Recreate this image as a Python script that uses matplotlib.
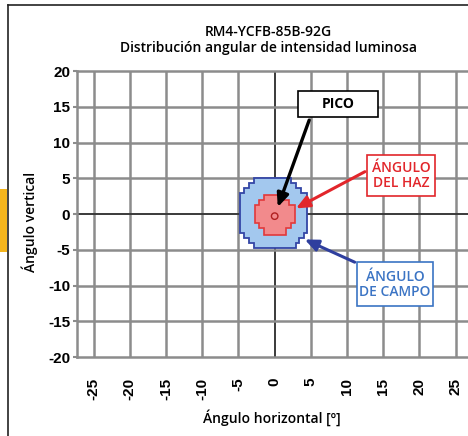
import numpy as np
import matplotlib
matplotlib.use('Agg')
import matplotlib.pyplot as plt
from matplotlib.patches import Polygon, Rectangle, Circle
from matplotlib.lines import Line2D

plt.rcParams['axes.unicode_minus'] = False

# chart data (degrees)
x_ticks = [-25, -20, -15, -10, -5, 0, 5, 10, 15, 20, 25]
y_ticks = [-20, -15, -10, -5, 0, 5, 10, 15, 20]

# field angle region (10% contour), row by row
field_y_edges = [-4.7, -4.1, -3.4, -2.7, 2.9, 3.6, 4.3, 5.0]
field_x_left = [-2.9, -3.6, -4.2, -4.8, -4.2, -3.6, -2.9]
field_x_right = [2.9, 3.4, 4.0, 4.5, 3.7, 3.0, 2.3]

# beam angle region (50% contour)
beam_y_edges = [-2.9, -2.0, -1.3, 1.3, 2.0, 2.7]
beam_x_left = [-1.5, -2.1, -2.7, -2.1, -1.5]
beam_x_right = [1.5, 2.2, 2.8, 2.0, 1.2]

peak_x, peak_y = 0.0, -0.3

TITLE = 'RM4-YCFB-85B-92G\nDistribución angular de intensidad luminosa'
TFONT = 'Open Sans'
TICKFONT = 'Liberation Sans'


def step_outline(y_edges, xl, xr):
    pts = []
    for i in range(len(xr)):
        pts.append((xr[i], y_edges[i]))
        pts.append((xr[i], y_edges[i + 1]))
    for i in reversed(range(len(xl))):
        pts.append((xl[i], y_edges[i + 1]))
        pts.append((xl[i], y_edges[i]))
    return np.array(pts)


fig = plt.figure(figsize=(4.68, 4.36), dpi=100)
ax = fig.add_axes([77 / 468, 1 - 357 / 436, 391 / 468, 286 / 436])
ax.set_xlim(-27.3, 26.7)
ax.set_ylim(-20, 20)

grid_c = '#8c8c8c'
for xv in x_ticks:
    ax.axvline(xv, color='#3a3a3a' if xv == 0 else grid_c,
               lw=1.4 if xv == 0 else 1.8, zorder=1)
for yv in y_ticks[1:-1]:
    ax.axhline(yv, color='#3a3a3a' if yv == 0 else grid_c,
               lw=1.4 if yv == 0 else 1.8, zorder=1)
for s in ['left', 'top', 'bottom']:
    ax.spines[s].set_color(grid_c)
    ax.spines[s].set_linewidth(1.8)
ax.spines['right'].set_visible(False)

ax.add_patch(Polygon(step_outline(field_y_edges, field_x_left, field_x_right),
                     closed=True, fc='#a3c8ee', ec='#3446a6', lw=1.3, zorder=2))
ax.add_patch(Polygon(step_outline(beam_y_edges, beam_x_left, beam_x_right),
                     closed=True, fc='#f28a8c', ec='#e2393b', lw=1.2, zorder=3))
ax.add_patch(Circle((peak_x, peak_y), 0.45, fc='none', ec='#b02020', lw=1.0, zorder=4))

ax.set_xticks(x_ticks)
ax.set_yticks(y_ticks)
ax.tick_params(axis='x', length=0, pad=15, labelrotation=90)
ax.tick_params(axis='y', length=3, width=1.5, color=grid_c, pad=2)
for lab in ax.get_xticklabels() + ax.get_yticklabels():
    lab.set_fontfamily(TICKFONT)
    lab.set_fontweight('bold')
    lab.set_fontsize(11)

# annotations
ax.add_patch(Rectangle((3.2, 13.5), 11.1, 3.7, fc='white', ec='black', lw=1.2, zorder=6))
ax.text(8.75, 15.35, 'PICO', ha='center', va='center', fontfamily=TFONT,
        fontweight='bold', fontsize=10, zorder=7)
ax.annotate('', xy=(0.3, 0.6), xytext=(4.9, 13.5),
            arrowprops=dict(arrowstyle='-|>,head_length=0.8,head_width=0.35',
                            color='black', lw=2.4), zorder=5)

ax.add_patch(Rectangle((12.8, 2.5), 9.3, 5.7, fc='white', ec='#e2262b', lw=1.2, zorder=6))
ax.text(17.45, 5.35, 'ÁNGULO\nDEL HAZ', ha='center', va='center', fontfamily=TFONT,
        fontweight='semibold', fontsize=10, color='#e2262b', linespacing=1.1, zorder=7)
ax.annotate('', xy=(2.6, 0.6), xytext=(12.8, 6.1),
            arrowprops=dict(arrowstyle='-|>,head_length=0.8,head_width=0.35',
                            color='#e2262b', lw=2.2), zorder=5)

ax.add_patch(Rectangle((11.4, -12.9), 10.5, 6.2, fc='white', ec='#3b74c4', lw=1.2, zorder=6))
ax.text(16.65, -9.8, 'ÁNGULO\nDE CAMPO', ha='center', va='center', fontfamily=TFONT,
        fontweight='semibold', fontsize=10, color='#3b74c4', linespacing=1.1, zorder=7)
ax.annotate('', xy=(3.8, -3.4), xytext=(11.4, -6.9),
            arrowprops=dict(arrowstyle='-|>,head_length=0.8,head_width=0.35',
                            color='#2f3f9e', lw=2.2), zorder=5)

fig.text(268 / 468, 1 - 40 / 436, TITLE, ha='center', va='center', fontfamily=TFONT,
         fontweight='semibold', fontsize=10, linespacing=1.15)
fig.text(272 / 468, 1 - 418 / 436, 'Ángulo horizontal [º]', ha='center', va='center',
         fontfamily=TFONT, fontweight='semibold', fontsize=10)
fig.text(30 / 468, 1 - 222 / 436, 'Ángulo vertical', ha='center', va='center',
         rotation=90, fontfamily=TFONT, fontweight='semibold', fontsize=10)

# outer frame and tab
fig.add_artist(Line2D([8 / 468, 8 / 468], [0, 1 - 5 / 436], color='#222222', lw=1.2))
fig.add_artist(Line2D([8 / 468, 1], [1 - 5 / 436, 1 - 5 / 436], color='#222222', lw=1.2))
fig.add_artist(Rectangle((0, 1 - 252 / 436), 7 / 468, 63 / 436, fc='#f5b51c', ec='none'))

fig.savefig('out.png', dpi=100)
